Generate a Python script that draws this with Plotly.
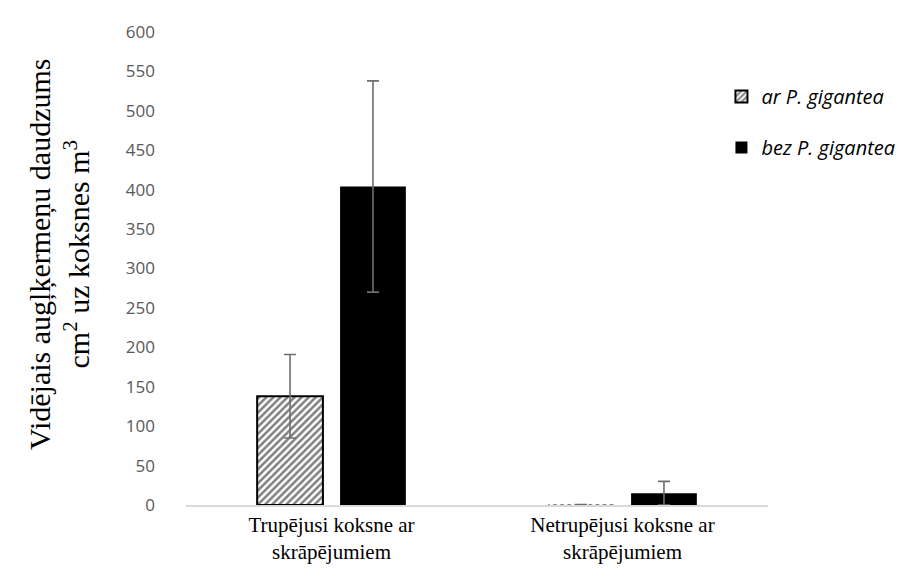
import plotly.graph_objects as go

categories = ["Trupējusi koksne ar<br>skrāpējumiem", "Netrupējusi koksne ar<br>skrāpējumiem"]
series_names = ["ar P. gigantea", "bez P. gigantea"]
with_pg = [138, 0.3]
with_pg_err = [53, 0.3]
without_pg = [404, 15]
without_pg_err = [134, 15]
y_ticks = list(range(0, 601, 50))

fig = go.Figure()
fig.add_trace(go.Bar(
    x=categories, y=with_pg, name=series_names[0], legendgroup="a",
    marker=dict(color="white", line=dict(color="black", width=[2, 0]),
                pattern=dict(shape="/", fgcolor="black", bgcolor="white", size=5, solidity=0.5)),
    error_y=dict(type="data", array=with_pg_err, color="#6e6e6e", thickness=1.6, width=6),
))
fig.add_trace(go.Bar(
    x=categories, y=without_pg, name=series_names[1], legendgroup="b",
    marker=dict(color="black", line=dict(color="black", width=0)),
    error_y=dict(type="data", array=without_pg_err, color="#6e6e6e", thickness=1.6, width=6),
))

fig.update_layout(
    width=904, height=579,
    margin=dict(l=178, r=117, t=22, b=82),
    plot_bgcolor="white", paper_bgcolor="white",
    barmode="group", bargap=0.43, bargroupgap=0.207,
    showlegend=True,
    legend=dict(x=0.92, xanchor="left", y=0.905, yanchor="top", xref="paper",
                font=dict(family="Open Sans", size=20, color="black", style="italic"),
                tracegroupgap=22, itemwidth=30, bgcolor="rgba(0,0,0,0)"),
    xaxis=dict(showline=True, linecolor="#d9d9d9", linewidth=1.5, ticks="",
               tickfont=dict(family="Liberation Serif", size=21, color="black"),
               showgrid=False, zeroline=False),
    yaxis=dict(range=[0, 600], tickvals=y_ticks, showgrid=False, showline=False, zeroline=False,
               ticks="", ticklabelstandoff=30,
               tickfont=dict(family="Open Sans", size=17, color="#595959")),
    annotations=[dict(
        text="Vidējais augļķermeņu daudzums<br>cm<sup>2</sup> uz koksnes m<sup>3</sup>",
        xref="paper", yref="paper", x=-172/609, xanchor="left", y=0.53, yanchor="middle",
        textangle=-90, showarrow=False, align="center",
        font=dict(family="Liberation Serif", size=30, color="black"),
    )],
)

fig.write_html("out.html")
